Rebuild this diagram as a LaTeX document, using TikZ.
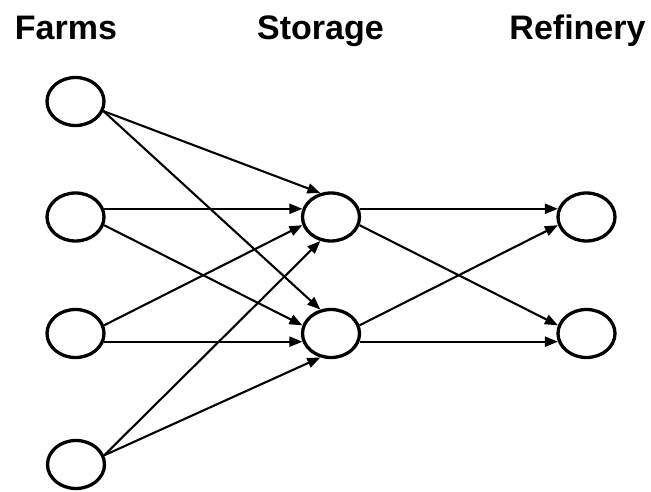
\documentclass[tikz,border=0pt]{standalone}
\usepackage{fontspec}
\setmainfont{Liberation Sans}
\usetikzlibrary{arrows.meta,shapes.geometric}
\begin{document}
\begin{tikzpicture}[x=1pt,y=-1pt,
  site/.style={ellipse,draw,line width=3.3pt,minimum width=57pt,minimum height=48pt,inner sep=0pt},
  flow/.style={line width=2.1pt,-{Triangle[length=13pt,width=10pt]}},
  head/.style={anchor=base,inner sep=0pt,font=\bfseries\fontsize{34}{40}\selectfont}]
\useasboundingbox (0,0) rectangle (651,492);

% column headings
\node[head] (hf) at (66,40) {Farms};
\node[head] (hs) at (320.5,40) {Storage};
\node[head] (hr) at (577.5,40) {Refinery};

% farms
\node[site] (f1) at (75.5,101.5) {};
\node[site] (f2) at (75.5,217) {};
\node[site] (f3) at (75.5,333.5) {};
\node[site] (f4) at (76,464.5) {};
% storage
\node[site] (s1) at (331,217) {};
\node[site] (s2) at (331,333.5) {};
% refinery
\node[site] (r1) at (586.5,217) {};
\node[site] (r2) at (586.5,333.5) {};

% farms to storage
\draw[flow] (f1.-19) -- (s1.114);
\draw[flow] (f1.-19) -- (s2.114);
\draw[flow] (f2.16) -- (s1.164);
\draw[flow] (f2.-16) -- (s2.164);
\draw[flow] (f3.16) -- (s1.196);
\draw[flow] (f3.-16) -- (s2.196);
\draw[flow] (f4.18) -- (s1.246);
\draw[flow] (f4.18) -- (s2.246);

% storage to refinery
\draw[flow] (s1.16) -- (r1.164);
\draw[flow] (s1.-16) -- (r2.164);
\draw[flow] (s2.16) -- (r1.196);
\draw[flow] (s2.-16) -- (r2.196);
\end{tikzpicture}
\end{document}
